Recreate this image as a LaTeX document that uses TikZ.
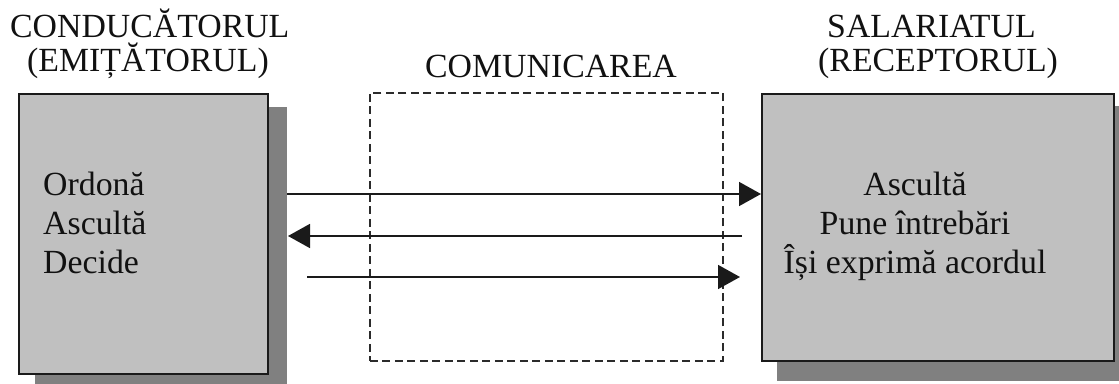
\documentclass[tikz,border=0pt]{standalone}
\usepackage{fontspec}
\setmainfont{Liberation Serif}
\usepackage{tikz}
\usetikzlibrary{arrows.meta,positioning,backgrounds,calc}
\definecolor{comBox}{HTML}{C0C0C0}
\definecolor{comShadow}{HTML}{808080}
\definecolor{comEdge}{HTML}{1A1A1A}
\definecolor{comDash}{HTML}{2B2B2B}
\definecolor{comText}{HTML}{111111}
\tikzset{
  com/.style={draw=comEdge,line width=1.7pt,fill=comBox,text=comText,inner sep=0pt,
              font=\fontsize{33.8pt}{39pt}\selectfont},
  comframe/.style={draw=comDash,line width=1.7pt,dash pattern=on 8pt off 4.5pt,inner sep=0pt},
  comshadow/.style={fill=comShadow},
  comtext/.style={text=comText,inner sep=0pt,font=\fontsize{33.8pt}{39pt}\selectfont},
  comtitle/.style={comtext,anchor=base west},
  comflow/.style={-{Triangle[length=22pt,width=24pt]},draw=comEdge,line width=1.6pt},
}
\begin{document}
\begin{tikzpicture}[x=1pt,y=-1pt]
  \useasboundingbox (0,0) rectangle (1119,383);

  % the two partners and the channel between them
  \node[com,anchor=north west,minimum width=249pt,minimum height=280pt] (L) at (18,93) {};
  \node[com,anchor=north west,minimum width=352pt,minimum height=267pt] (R) at (761,93) {};
  \node[comframe,anchor=north west,minimum width=353pt,minimum height=268pt] (C) at (369,92) {};
  \begin{scope}[on background layer]
    \fill[comshadow] ($(L.north west)+(17,14)$) rectangle ($(L.south east)+(18,14)$);
    \fill[comshadow] ($(R.north west)+(16,13)$) rectangle ($(R.south east)+(16,19)$);
  \end{scope}

  % titles
  \node[comtitle] (t1) at (10,37) {CONDUCĂTORUL};
  \node[comtitle] (t2) at (27,71) {(EMIȚĂTORUL)};
  \node[comtitle] (t3) at (425,77) {COMUNICAREA};
  \node[comtitle] (t4) at (827,37) {SALARIATUL};
  \node[comtitle] (t5) at (818,71) {(RECEPTORUL)};

  % what each side does
  \node[comtext,anchor=base west,align=left] (lt) at (43,273) {Ordonă\\Ascultă\\Decide};
  \node[comtext,anchor=base,align=center] (rt) at (915,273) {Ascultă\\Pune întrebări\\Își exprimă acordul};

  % messages
  \coordinate (m1) at (287,194);
  \coordinate (m2) at (742,236);
  \coordinate (m2e) at (288,236);
  \coordinate (m3) at (307,277);
  \coordinate (m3e) at (740,277);
  \draw[comflow] (m1) -- (R.west |- m1);
  \draw[comflow] (m2) -- (m2e);
  \draw[comflow] (m3) -- (m3e);
\end{tikzpicture}
\end{document}
